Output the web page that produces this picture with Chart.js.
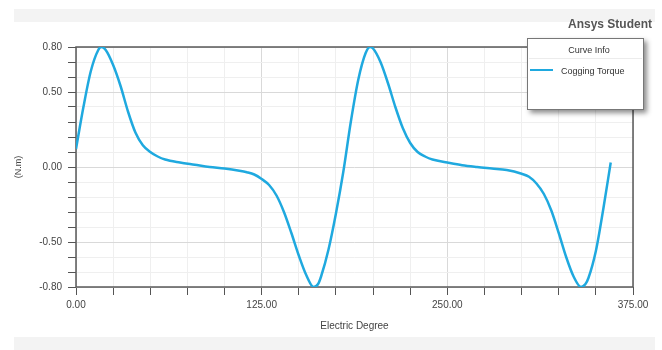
<!DOCTYPE html>
<html>
<head>
<meta charset="utf-8">
<script src="https://cdn.jsdelivr.net/npm/chart.js@4.4.1/dist/chart.umd.min.js"></script>
<style>
  html, body { margin: 0; padding: 0; background: #fff; }
  #wrap { position: relative; width: 662px; height: 350px; }
  .strip { position: absolute; left: 14px; width: 641px; background: #f3f3f3; }
  #chart { position: absolute; left: 0; top: 0; }
</style>
</head>
<body>
<div id="wrap">
  <div class="strip" style="top:9px;height:13px"></div>
  <div class="strip" style="top:337px;height:13px"></div>
  <canvas id="chart" width="662" height="350"></canvas>
</div>
<script>
// electric degree samples
var degrees = [0, 5, 10, 15, 17, 20, 25, 30, 35, 40, 45, 50, 55, 60, 70, 80, 90, 100, 110, 115,
  120, 125, 130, 135, 140, 145, 150, 155, 160, 163, 165, 170, 175, 180, 185, 190, 195, 198,
  200, 205, 210, 215, 220, 225, 230, 235, 240, 250, 260, 270, 280, 290, 300, 305, 310, 315,
  320, 325, 330, 335, 340, 343, 345, 350, 355, 360];
// cogging torque (N.m)
var torque = [0.12, 0.40, 0.64, 0.78, 0.80, 0.78, 0.68, 0.54, 0.37, 0.23, 0.145, 0.10, 0.07, 0.05,
  0.03, 0.015, 0.0, -0.01, -0.025, -0.035, -0.05, -0.08, -0.12, -0.19, -0.30, -0.44, -0.59,
  -0.72, -0.80, -0.78, -0.73, -0.55, -0.31, -0.03, 0.30, 0.58, 0.76, 0.80, 0.79, 0.70, 0.56,
  0.40, 0.26, 0.16, 0.10, 0.07, 0.05, 0.03, 0.012, 0.0, -0.01, -0.02, -0.045, -0.065, -0.11,
  -0.18, -0.29, -0.44, -0.60, -0.73, -0.80, -0.78, -0.74, -0.56, -0.28, 0.03];

var xTickLabels = [0, 125, 250, 375];
var yTickLabels = [-0.8, -0.5, 0, 0.5, 0.8];

var points = degrees.map(function (d, i) {
  return { x: d, y: torque[i] };
});

// frame + legend box drawn on top of the canvas
var framePlugin = {
  id: "frame",
  beforeDatasetsDraw: function (chart) {
    var a = chart.chartArea;
    var ctx = chart.ctx;
    ctx.save();
    ctx.strokeStyle = "#5a5a5a";
    ctx.lineWidth = 1.5;
    ctx.strokeRect(a.left, a.top, a.right - a.left, a.bottom - a.top);
    ctx.restore();
  },
  afterDraw: function (chart) {
    var ctx = chart.ctx;
    var ds = chart.data.datasets[0];
    ctx.save();
    // title
    ctx.font = "bold 12px 'Liberation Sans', Arial, sans-serif";
    ctx.fillStyle = "#555";
    ctx.textAlign = "right";
    ctx.textBaseline = "middle";
    ctx.fillText("Ansys Student", 652, 25);
    // legend box with soft shadow
    ctx.save();
    ctx.shadowColor = "rgba(0,0,0,0.45)";
    ctx.shadowBlur = 5;
    ctx.shadowOffsetX = 3;
    ctx.shadowOffsetY = 3;
    ctx.fillStyle = "#fff";
    ctx.fillRect(527, 38, 117, 72);
    ctx.restore();
    ctx.strokeStyle = "#777";
    ctx.lineWidth = 1;
    ctx.strokeRect(527.5, 38.5, 116, 71);
    ctx.strokeStyle = "#ececec";
    ctx.beginPath();
    ctx.moveTo(529, 58.5);
    ctx.lineTo(642, 58.5);
    ctx.stroke();
    ctx.font = "9px 'Liberation Sans', Arial, sans-serif";
    ctx.fillStyle = "#333";
    ctx.textAlign = "center";
    ctx.fillText("Curve Info", 589, 51);
    ctx.textAlign = "left";
    ctx.fillText(ds.label, 561, 72);
    ctx.strokeStyle = ds.borderColor;
    ctx.lineWidth = 2;
    ctx.beginPath();
    ctx.moveTo(530, 70);
    ctx.lineTo(553, 70);
    ctx.stroke();
    ctx.restore();
  }
};

var ctx = document.getElementById("chart").getContext("2d");
var myChart = new Chart(ctx, {
  type: "line",
  data: {
    datasets: [
      {
        label: "Cogging Torque",
        data: points,
        borderColor: "#1fa9df",
        borderWidth: 2.5,
        pointRadius: 0,
        fill: false,
        cubicInterpolationMode: "monotone"
      }
    ]
  },
  options: {
    responsive: false,
    animation: false,
    layout: { padding: { top: 47, right: 29, left: 0, bottom: 0 } },
    plugins: {
      legend: { display: false },
      tooltip: { enabled: false }
    },
    scales: {
      x: {
        type: "linear",
        min: 0,
        max: 375,
        afterFit: function (s) { s.height = 63; },
        afterBuildTicks: function (s) {
          var t = [];
          for (var v = 0; v <= 375; v += 25) t.push({ value: v });
          s.ticks = t;
        },
        border: { display: false },
        grid: {
          color: function (c) {
            return xTickLabels.indexOf(c.tick.value) >= 0 ? "#d9d9d9" : "#efefef";
          },
          tickColor: "#555",
          tickLength: 8
        },
        ticks: {
          autoSkip: false,
          maxRotation: 0,
          padding: 4,
          color: "#444",
          font: { family: "'Liberation Sans', Arial, sans-serif", size: 10 },
          callback: function (v) {
            return xTickLabels.indexOf(v) >= 0 ? v.toFixed(2) : "";
          }
        },
        title: {
          display: true,
          text: "Electric Degree",
          color: "#444",
          font: { family: "'Liberation Sans', Arial, sans-serif", size: 10 },
          padding: { top: 2, bottom: 18 }
        }
      },
      y: {
        min: -0.8,
        max: 0.8,
        afterFit: function (s) { s.width = 76; },
        afterBuildTicks: function (s) {
          var t = [];
          for (var i = -8; i <= 8; i++) t.push({ value: i / 10 });
          s.ticks = t;
        },
        border: { display: false },
        grid: {
          color: function (c) {
            return yTickLabels.indexOf(c.tick.value) >= 0 ? "#d9d9d9" : "#efefef";
          },
          tickColor: "#555",
          tickLength: 8
        },
        ticks: {
          autoSkip: false,
          padding: 6,
          color: "#444",
          font: { family: "'Liberation Sans', Arial, sans-serif", size: 10 },
          callback: function (v) {
            return yTickLabels.indexOf(v) >= 0 ? v.toFixed(2) : "";
          }
        },
        title: {
          display: true,
          text: "(N.m)",
          color: "#444",
          font: { family: "'Liberation Sans', Arial, sans-serif", size: 9 },
          padding: { top: 13, bottom: 0 }
        }
      }
    }
  },
  plugins: [framePlugin]
});
</script>
</body>
</html>
